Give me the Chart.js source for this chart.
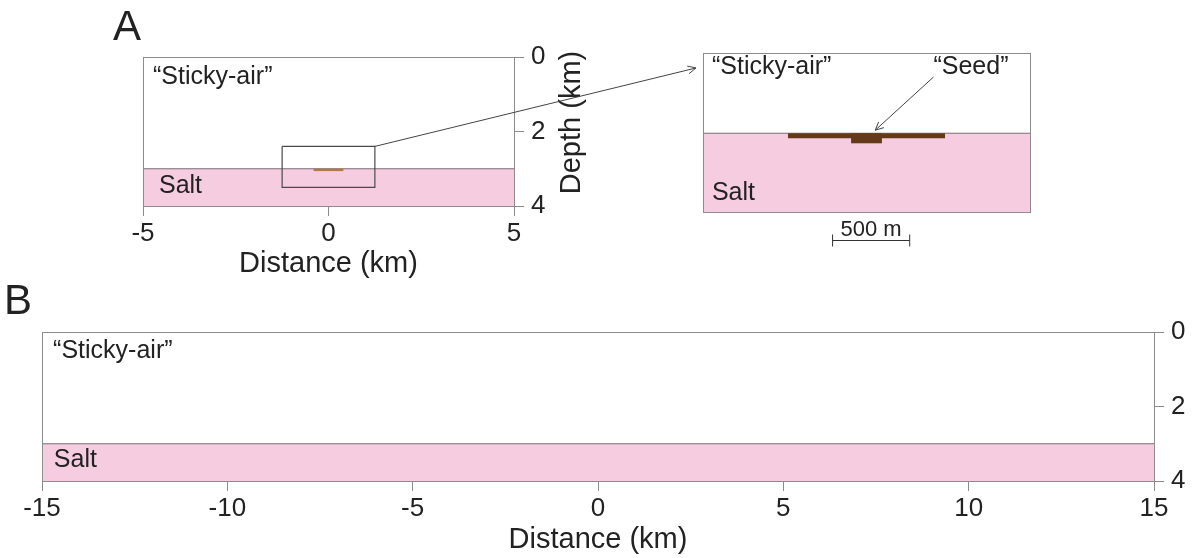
<!DOCTYPE html>
<html>
<head>
<meta charset="utf-8">
<script src="https://cdn.jsdelivr.net/npm/chart.js@4"></script>
<style>
    html, body { margin: 0; padding: 0; background: #fff; }
    #figure { position: relative; width: 1194px; height: 558px; overflow: hidden; }
    #figure canvas { position: absolute; left: 0; top: 0; }
</style>
</head>
<body>
<div id="figure">
    <canvas id="panelB" width="1194" height="558"></canvas>
    <canvas id="panelA" width="1194" height="558"></canvas>
    <canvas id="inset" width="1194" height="558"></canvas>
</div>
<script>
// Overview panels (km)
const distanceTicksA = [-5, 0, 5];
const distanceTicksB = [-15, -10, -5, 0, 5, 10, 15];
const depthTicks = [0, 2, 4];
const saltTop = 3;
const zoomBoxX = [-1.25, 1.25];
const zoomBoxDepth = [2.4, 3.5];
const seedOverviewX = [-0.4, 0.4];
const seedOverviewDepth = 3.03;

// Close-up of the seed (m)
const insetX = [-1060, 1060];
const insetDepth = [2480, 3510];
const insetSaltTop = 3000;
const seedLayerX = [-510, 510];
const seedLayerBase = 3032;
const seedCoreX = [-100, 100];
const seedCoreBase = 3065;
const scaleBarX = [-220, 280];
const scaleBarText = '500 m';

const STICKY = '“Sticky-air”';
const SALT_TEXT = 'Salt';
const SEED_TEXT = '“Seed”';

const FONT = '"Liberation Sans", Arial, sans-serif';
const INK = '#222';
const FRAME = '#8c8c8c';
const SALT = '#f6cde0';
const SALT_EDGE = '#7d6d74';
const SEED = '#653a18';

Chart.defaults.font.family = FONT;
Chart.defaults.color = INK;

function line(points, opts) {
    return Object.assign({ data: points, showLine: true, pointRadius: 0, borderWidth: 1, fill: false }, opts);
}

function arrow(ctx, x1, y1, x2, y2, head) {
    ctx.beginPath();
    ctx.moveTo(x1, y1);
    ctx.lineTo(x2, y2);
    ctx.stroke();
    const a = Math.atan2(y2 - y1, x2 - x1);
    ctx.beginPath();
    ctx.moveTo(x2 - head * Math.cos(a - 0.45), y2 - head * Math.sin(a - 0.45));
    ctx.lineTo(x2, y2);
    ctx.lineTo(x2 - head * Math.cos(a + 0.45), y2 - head * Math.sin(a + 0.45));
    ctx.stroke();
}

// frame + in-panel text, then any extra drawing for that panel
function figurePlugin(cfg) {
    return {
        id: 'figure',
        afterDatasetsDraw(chart) {
            const { ctx, chartArea: a, scales: { x, y } } = chart;
            ctx.save();
            ctx.strokeStyle = FRAME;
            ctx.lineWidth = 1;
            ctx.strokeRect(Math.round(a.left) + 0.5, Math.round(a.top) + 0.5,
                Math.round(a.right - a.left), Math.round(a.bottom - a.top));
            ctx.fillStyle = INK;
            ctx.textAlign = 'left';
            ctx.textBaseline = 'middle';
            ctx.font = `25px ${FONT}`;
            cfg.labels.forEach(l => ctx.fillText(l.text, x.getPixelForValue(l.x), y.getPixelForValue(l.y)));
            if (cfg.letter) {
                ctx.font = `42px ${FONT}`;
                ctx.textBaseline = 'alphabetic';
                ctx.fillText(cfg.letter.text, cfg.letter.x, cfg.letter.y);
            }
            if (cfg.extra) cfg.extra(chart, ctx);
            ctx.restore();
        }
    };
}

function axisStyle() {
    return {
        grid: { drawOnChartArea: false, drawTicks: true, tickLength: 10, color: FRAME },
        border: { display: true, color: FRAME }
    };
}

function overviewScales(ticksX, xHeight, yWidth) {
    return {
        x: Object.assign(axisStyle(), {
            type: 'linear',
            min: ticksX[0],
            max: ticksX[ticksX.length - 1],
            afterBuildTicks: s => { s.ticks = ticksX.map(v => ({ value: v })); },
            ticks: { padding: 2, font: { size: 26 }, color: INK },
            title: { display: true, text: 'Distance (km)', font: { size: 29 }, color: INK, padding: 0 },
            afterFit: s => { s.height = xHeight; }
        }),
        y: Object.assign(axisStyle(), {
            type: 'linear',
            position: 'right',
            reverse: true,
            min: depthTicks[0],
            max: depthTicks[depthTicks.length - 1],
            afterBuildTicks: s => { s.ticks = depthTicks.map(v => ({ value: v })); },
            ticks: { padding: 7, font: { size: 26 }, color: INK },
            afterFit: s => { s.width = yWidth; }
        })
    };
}

function baseOptions(padding, scales) {
    return {
        responsive: false,
        animation: false,
        events: [],
        layout: { padding },
        plugins: { legend: { display: false }, tooltip: { enabled: false } },
        scales
    };
}

class SaltSeedFigure {
    constructor() {
        this.init();
    }

    init() {
        this.panelB = this.buildPanelB();
        this.panelA = this.buildPanelA();
        this.inset = this.buildInset();
    }

    // salt fills from its top down to the base of the model; listed last so it sits underneath
    saltLayer(xr, top, base) {
        return line([{ x: xr[0], y: top }, { x: xr[1], y: top }],
            { fill: { value: base }, backgroundColor: SALT, borderColor: SALT_EDGE, borderWidth: 1.2 });
    }

    buildPanelA() {
        const xr = [distanceTicksA[0], distanceTicksA[distanceTicksA.length - 1]];
        const box = [
            { x: zoomBoxX[0], y: zoomBoxDepth[0] }, { x: zoomBoxX[1], y: zoomBoxDepth[0] },
            { x: zoomBoxX[1], y: zoomBoxDepth[1] }, { x: zoomBoxX[0], y: zoomBoxDepth[1] },
            { x: zoomBoxX[0], y: zoomBoxDepth[0] }
        ];
        return new Chart(document.getElementById('panelA'), {
            type: 'scatter',
            data: {
                datasets: [
                    line(box, { borderColor: '#4a4a4a', borderWidth: 1.2 }),
                    line(seedOverviewX.map(v => ({ x: v, y: seedOverviewDepth })), { borderColor: '#b07a45', borderWidth: 2.5 }),
                    this.saltLayer(xr, saltTop, depthTicks[depthTicks.length - 1])
                ]
            },
            options: baseOptions({ left: 143, top: 57, right: 640, bottom: 277 },
                overviewScales(distanceTicksA, 75, 40)),
            plugins: [figurePlugin({
                labels: [{ text: STICKY, x: -4.73, y: 0.54 }, { text: SALT_TEXT, x: -4.57, y: 3.46 }],
                letter: { text: 'A', x: 113, y: 40 },
                extra: (chart, ctx) => {
                    const a = chart.chartArea;
                    ctx.translate(a.right + 58, (a.top + a.bottom) / 2 - 9);
                    ctx.rotate(-Math.PI / 2);
                    ctx.font = `29px ${FONT}`;
                    ctx.textAlign = 'center';
                    ctx.textBaseline = 'middle';
                    ctx.fillText('Depth (km)', 0, 0);
                }
            })]
        });
    }

    buildPanelB() {
        const xr = [distanceTicksB[0], distanceTicksB[distanceTicksB.length - 1]];
        return new Chart(document.getElementById('panelB'), {
            type: 'scatter',
            data: { datasets: [this.saltLayer(xr, saltTop, depthTicks[depthTicks.length - 1])] },
            options: baseOptions({ left: 42, top: 332, right: 0, bottom: 1 },
                overviewScales(distanceTicksB, 76, 40)),
            plugins: [figurePlugin({
                labels: [{ text: STICKY, x: -14.70, y: 0.51 }, { text: SALT_TEXT, x: -14.68, y: 3.44 }],
                letter: { text: 'B', x: 4, y: 314 }
            })]
        });
    }

    buildInset() {
        const hidden = { display: false };
        return new Chart(document.getElementById('inset'), {
            type: 'scatter',
            data: {
                datasets: [
                    line(seedCoreX.map(v => ({ x: v, y: insetSaltTop })),
                        { borderWidth: 0, fill: { value: seedCoreBase }, backgroundColor: SEED }),
                    line(seedLayerX.map(v => ({ x: v, y: insetSaltTop })),
                        { borderWidth: 0, fill: { value: seedLayerBase }, backgroundColor: SEED }),
                    this.saltLayer(insetX, insetSaltTop, insetDepth[1])
                ]
            },
            options: baseOptions({ left: 703, top: 53, right: 164, bottom: 346 }, {
                x: Object.assign({ type: 'linear', min: insetX[0], max: insetX[1] }, hidden),
                y: Object.assign({ type: 'linear', reverse: true, min: insetDepth[0], max: insetDepth[1] }, hidden)
            }),
            plugins: [figurePlugin({
                labels: [
                    { text: STICKY, x: -1002, y: 2571 },
                    { text: SALT_TEXT, x: -1002, y: 3389 },
                    { text: SEED_TEXT, x: 434, y: 2571 }
                ],
                extra: (chart, ctx) => {
                    const { chartArea: a, scales: { x, y } } = chart;
                    ctx.strokeStyle = '#444';
                    ctx.lineWidth = 1;
                    // seed pointer
                    arrow(ctx, x.getPixelForValue(434), y.getPixelForValue(2636),
                        x.getPixelForValue(57), y.getPixelForValue(2980), 9);
                    // zoom box -> close-up
                    const pa = this.panelA;
                    arrow(ctx, pa.scales.x.getPixelForValue(zoomBoxX[1]), pa.scales.y.getPixelForValue(zoomBoxDepth[0]),
                        a.left - 7, y.getPixelForValue(2577), 9);
                    // scale bar
                    const x0 = x.getPixelForValue(scaleBarX[0]);
                    const x1 = x.getPixelForValue(scaleBarX[1]);
                    const yb = Math.round(a.bottom + 28) + 0.5;
                    ctx.strokeStyle = '#333';
                    ctx.beginPath();
                    ctx.moveTo(x0, yb); ctx.lineTo(x1, yb);
                    ctx.moveTo(x0, yb - 6); ctx.lineTo(x0, yb + 6);
                    ctx.moveTo(x1, yb - 6); ctx.lineTo(x1, yb + 6);
                    ctx.stroke();
                    ctx.font = `22px ${FONT}`;
                    ctx.textAlign = 'center';
                    ctx.textBaseline = 'middle';
                    ctx.fillText(scaleBarText, (x0 + x1) / 2, yb - 11);
                }
            })]
        });
    }
}

new SaltSeedFigure();
</script>
</body>
</html>
